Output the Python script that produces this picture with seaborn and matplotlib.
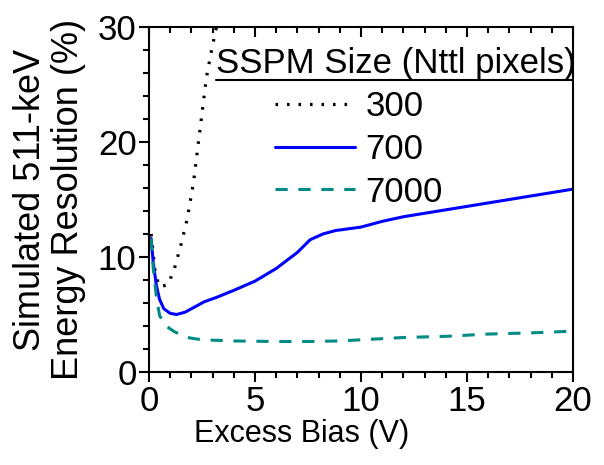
import numpy as np
import pandas as pd
import matplotlib
matplotlib.use("Agg")
import matplotlib.pyplot as plt
import seaborn as sns
from matplotlib.ticker import MultipleLocator

# valores
bias_300 = [0.1, 0.3, 0.5, 0.9, 1.2, 1.5, 1.8, 2.1, 2.3, 2.5, 2.7, 2.9, 3.1, 3.3]
res_300 = [12.0, 8.5, 7.4, 7.6, 9.0, 11.0, 13.3, 16.5, 19.5, 22.5, 25.5, 27.5, 29.3, 31.0]

bias_700 = [0.1, 0.2, 0.35, 0.5, 0.7, 1.0, 1.3, 1.7, 2.2, 2.6, 3.2, 4.0, 5.0, 6.0, 7.0,
            7.6, 8.2, 8.8, 10, 11, 12, 14, 16, 18, 20]
res_700 = [11.6, 9.5, 7.5, 6.3, 5.5, 5.1, 5.0, 5.2, 5.7, 6.1, 6.5, 7.1, 7.9, 9.0, 10.4,
           11.5, 12.0, 12.3, 12.6, 13.1, 13.5, 14.1, 14.7, 15.3, 15.9]

bias_7000 = [0.1, 0.2, 0.35, 0.5, 0.8, 1.2, 1.8, 2.5, 4, 6, 7.5, 9, 10, 12, 14, 16, 18, 20]
res_7000 = [11.6, 9.0, 6.5, 4.9, 4.0, 3.5, 3.0, 2.8, 2.7, 2.65, 2.65, 2.7, 2.8, 3.0, 3.1,
            3.3, 3.4, 3.55]

labels = ['300', '700', '7000']

sns.set_theme(style="white")
plt.rcParams['font.family'] = ['Liberation Sans', 'DejaVu Sans']
plt.rcParams['text.color'] = 'black'
plt.rcParams['axes.labelcolor'] = 'black'
plt.rcParams['xtick.color'] = 'black'
plt.rcParams['ytick.color'] = 'black'

fig = plt.figure(figsize=(6.04, 4.65), dpi=100)
ax = fig.add_axes([0.2467, 0.2, 0.702, 0.742])

df300 = pd.DataFrame({'x': bias_300, 'y': res_300})
df700 = pd.DataFrame({'x': bias_700, 'y': res_700})
df7000 = pd.DataFrame({'x': bias_7000, 'y': res_7000})

sns.lineplot(data=df300, x='x', y='y', ax=ax, color='black', linewidth=2.3,
             linestyle=(0, (0.8, 2.8)), label=labels[0])
sns.lineplot(data=df700, x='x', y='y', ax=ax, color='#0000FF', linewidth=2.2,
             label=labels[1])
sns.lineplot(data=df7000, x='x', y='y', ax=ax, color='#008B84', linewidth=2.2,
             linestyle=(0, (4, 3.5)), label=labels[2])

ax.set_xlim(0, 20)
ax.set_ylim(0, 30)
ax.xaxis.set_major_locator(MultipleLocator(5))
ax.xaxis.set_minor_locator(MultipleLocator(1))
ax.yaxis.set_major_locator(MultipleLocator(10))
ax.yaxis.set_minor_locator(MultipleLocator(2))

for s in ax.spines.values():
    s.set_color('black')
    s.set_linewidth(1.5)

ax.tick_params(axis='both', which='both', direction='out', color='black', width=1.5,
               labelsize=25, pad=2)
ax.tick_params(axis='both', which='major', length=7)
ax.tick_params(axis='both', which='minor', length=4)
ax.tick_params(axis='x', which='both', top=True, bottom=True)
ax.tick_params(axis='y', which='both', left=True, right=False)

# ticks de cima apontando para dentro
for t in ax.xaxis.get_major_ticks() + ax.xaxis.get_minor_ticks():
    t.tick2line.set_marker(matplotlib.lines.TICKDOWN)

ax.set_xlabel('Excess Bias (V)', fontsize=22)
ax.xaxis.set_label_coords(0.361, -0.135)
ax.set_ylabel('Simulated 511-keV\nEnergy Resolution (%)', fontsize=26, linespacing=1.1)
ax.yaxis.set_label_coords(-0.149, 0.5)

leg = ax.legend(loc='upper left', bbox_to_anchor=(0.298, 0.817), frameon=False,
                fontsize=25, handlelength=2.3, handletextpad=0.3, labelspacing=0.28,
                borderaxespad=0, borderpad=0)
ax.text(0.157, 0.867, 'SSPM Size (Nttl pixels)', transform=ax.transAxes,
        fontsize=25, ha='left', va='baseline')
ax.plot([0.157, 1.0], [0.846, 0.846], transform=ax.transAxes, color='black',
        linewidth=1.5, clip_on=False)

fig.savefig('out.png', dpi=100)
